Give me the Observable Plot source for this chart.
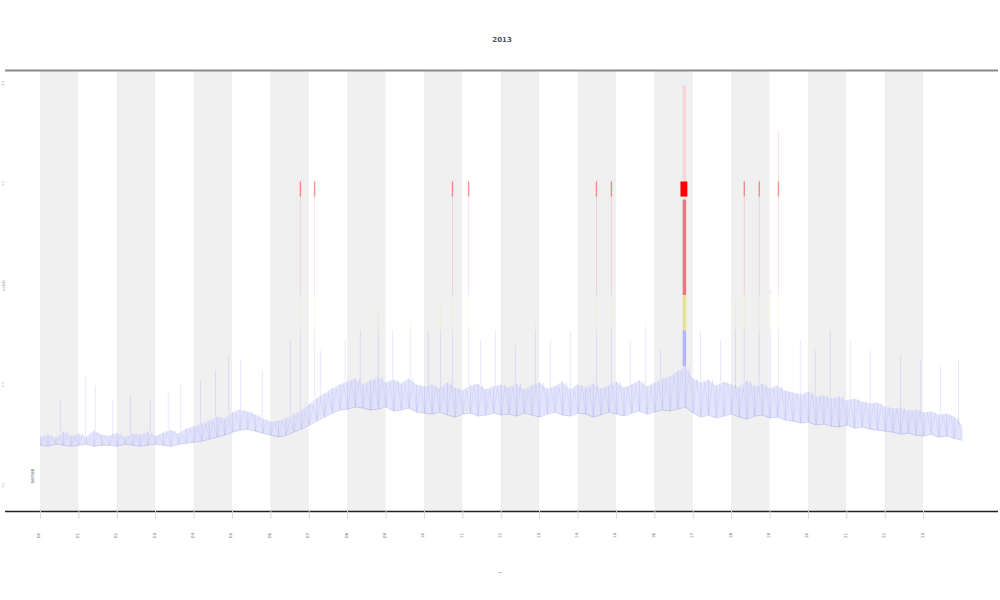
<!DOCTYPE html>
<html><head><meta charset="utf-8">
<script src="https://cdn.jsdelivr.net/npm/d3@7"></script>
<script src="https://cdn.jsdelivr.net/npm/@observablehq/plot@0.6"></script>
<style>body{margin:0;background:#fff;} #chart svg{display:block;}</style>
</head><body><div id="chart"></div>
<script>
// ---- text ----
const chartTitle = "2013";
const xTitle = "t";
const yTitle = "value";
const legendText = "series";

// ---- ticks ----
const xTicks = [0,1,2,3,4,5,6,7,8,9,10,11,12,13,14,15,16,17,18,19,20,21,22,23];
const xTickLabels = ["00","01","02","03","04","05","06","07","08","09","10","11","12","13","14","15","16","17","18","19","20","21","22","23"];
const yTicks = [0,1,2,3,4];
const yTickLabels = ["0.0","1.0","2.0","3.0","4.0"];
const shadeStarts = [0,2,4,6,8,10,12,14,16,18,20,22];

// ---- dense band (sampled every 0.2) ----
const bandStep = 0.2;
const bandLow = [0.42,0.41,0.43,0.42,0.41,0.42,0.43,0.41,0.42,0.42,0.41,0.43,0.42,0.41,0.42,0.43,0.42,0.41,0.43,0.44,0.45,
  0.46,0.48,0.50,0.52,0.55,0.57,0.58,
  0.56,0.54,0.52,0.50,
  0.52,0.55,0.58,0.62,0.66,0.70,0.74,0.77,
  0.78,0.80,0.79,0.77,0.78,0.80,0.76,0.77,0.79,0.75,0.74,
  0.73,0.75,0.72,0.70,0.73,0.74,0.71,0.72,0.74,0.72,
  0.73,0.71,0.74,0.72,0.70,0.73,0.75,0.72,0.71,0.74,0.73,0.70,0.72,0.75,0.73,0.71,0.74,0.76,0.73,0.75,0.77,0.76,
  0.78,0.80,0.74,
  0.70,0.72,0.69,0.71,0.73,0.70,0.68,0.71,0.72,0.69,0.70,0.67,
  0.66,0.64,0.65,0.62,0.63,0.61,0.60,0.62,0.59,0.60,0.58,0.57,
  0.56,0.55,0.53,0.54,0.52,0.51,0.53,0.50,0.51,0.49,0.47];
const bandHigh = [0.50,0.52,0.49,0.55,0.51,0.53,0.50,0.56,0.52,0.51,0.54,0.50,0.53,0.52,0.55,0.51,0.54,0.57,0.53,0.58,0.60,
  0.63,0.66,0.70,0.68,0.74,0.77,0.75,
  0.72,0.68,0.65,0.66,
  0.68,0.72,0.76,0.82,0.88,0.93,0.98,1.02,
  1.05,1.08,1.02,1.06,1.10,1.04,1.07,1.03,1.08,1.02,1.00,
  1.02,0.98,1.04,0.99,0.96,1.01,1.03,0.97,1.00,1.02,
  0.99,1.03,0.97,1.01,1.04,0.98,1.00,1.05,0.97,1.02,0.99,1.03,0.98,1.01,1.05,0.99,1.02,1.06,1.00,1.04,1.08,1.10,
  1.15,1.20,1.08,
  1.04,1.07,1.01,1.05,1.02,0.99,1.06,1.00,1.03,0.98,1.01,0.96,
  0.94,0.92,0.95,0.90,0.91,0.88,0.90,0.86,0.88,0.85,0.83,0.84,
  0.80,0.78,0.79,0.76,0.77,0.74,0.75,0.72,0.73,0.70,0.62];

// ---- isolated spikes ----
const spikeT   = [0.52,1.17,1.43,1.88,2.34,2.86,3.33,3.65,4.17,4.56,4.90,5.21,5.78,6.51,6.77,7.14,7.29,7.94,8.33,8.80,9.17,9.64,10.10,10.42,10.73,11.15,11.46,11.85,12.37,12.89,13.28,13.80,14.48,14.87,15.36,15.76,16.15,16.77,17.19,17.71,18.10,18.33,18.72,19.01,19.22,19.79,20.18,20.57,21.09,21.61,22.40,22.92,23.44,23.91];
const spikeTop = [0.87,1.11,1.01,0.87,0.92,0.87,0.95,1.01,1.06,1.16,1.31,1.26,1.16,1.46,3.05,3.05,1.36,1.46,1.56,1.76,1.56,1.66,1.56,1.86,3.05,3.05,1.46,1.56,1.41,1.66,1.46,1.56,3.05,3.05,1.46,1.66,1.36,4.00,1.56,1.46,1.86,3.05,3.05,1.96,3.55,1.46,1.36,1.56,1.46,1.36,1.31,1.26,1.21,1.26];

// ---- colour breaks and flags ----
const yellowFrom = 1.56;
const redFrom = 1.91;
const flagLow = 2.89;
const flagHigh = 3.04;
const flagT = [6.77,7.14,10.73,11.15,14.48,14.87,18.33,18.72,19.22];
const mainT = 16.77;
const mainTop = 4.00;
const mainRedTop = 2.86;

const blue = "#6e70ea", yellow = "#e4dc5a", red = "#e23a3a";

// ---- derived tables ----
const band = bandLow.map((lo, i) => ({t: i * bandStep, low: lo, high: bandHigh[i]}));
const zig = band.flatMap((d, i) => i < band.length - 1
  ? [{t: d.t, v: d.low}, {t: d.t + bandStep / 2, v: d.high}]
  : [{t: d.t, v: d.low}]);
const baseAt = t => bandHigh[Math.min(Math.round(t / bandStep), bandHigh.length - 1)];
const spikeSegs = spikeT.flatMap((t, i) => {
  const top = spikeTop[i], base = baseAt(t), out = [];
  out.push({t, y1: base, y2: Math.min(top, yellowFrom), c: blue});
  if (top > yellowFrom) out.push({t, y1: yellowFrom, y2: Math.min(top, redFrom), c: yellow});
  if (top > redFrom) out.push({t, y1: redFrom, y2: top, c: red});
  return out;
});
const mainSegs = [
  {t: mainT, y1: baseAt(mainT), y2: yellowFrom, c: "#b4b7f2"},
  {t: mainT, y1: yellowFrom, y2: redFrom, c: "#e6e296"},
  {t: mainT, y1: redFrom, y2: mainRedTop, c: "#e67a82"},
  {t: mainT, y1: flagHigh, y2: mainTop, c: "#f6d6d6"}
];

const chart = Plot.plot({
  width: 1000, height: 600,
  marginTop: 70, marginBottom: 89, marginLeft: 5, marginRight: 2,
  x: {domain: [-0.91, 24.95], axis: null},
  y: {domain: [-0.24, 4.15], axis: null},
  color: {type: "identity"},
  style: {fontFamily: "DejaVu Sans", background: "#fff"},
  marks: [
    Plot.rect(shadeStarts, {x1: d => d, x2: d => d + 1, fill: "#f0f0f0"}),
    Plot.areaY(band, {x: "t", y1: "low", y2: "high", fill: "#dadcf9", fillOpacity: 0.75, curve: "linear"}),
    Plot.ruleX(band, {x: "t", y1: "low", y2: "high", stroke: blue, strokeOpacity: 0.25, strokeWidth: 0.6}),
    Plot.line(zig, {x: "t", y: "v", stroke: blue, strokeOpacity: 0.2, strokeWidth: 0.5}),
    Plot.line(band, {x: "t", y: "low", stroke: blue, strokeOpacity: 0.45, strokeWidth: 0.7}),
    Plot.ruleX(spikeSegs, {x: "t", y1: "y1", y2: "y2", stroke: "c", strokeOpacity: 0.22, strokeWidth: 0.7}),
    Plot.ruleX(mainSegs, {x: "t", y1: "y1", y2: "y2", stroke: "c", strokeWidth: 3.5}),
    Plot.ruleX(flagT, {x: d => d, y1: flagLow, y2: flagHigh, stroke: "#e83030", strokeWidth: 1.4, strokeOpacity: 0.45}),
    Plot.rect([mainT], {x1: d => d - 0.09, x2: d => d + 0.09, y1: flagLow, y2: flagHigh, fill: "#ff0000"}),
    Plot.ruleY([4.15], {stroke: "#8a8a8a", strokeWidth: 2}),
    Plot.ruleY([-0.24], {stroke: "#222", strokeWidth: 1.5}),
    Plot.axisX({ticks: xTicks, tickSize: 8, stroke: "#d8d8d8", tickFormat: () => "", anchor: "bottom", label: null}),
    Plot.text(xTickLabels, {x: (d, i) => xTicks[i], text: d => d, frameAnchor: "bottom", dy: 24, rotate: -90, fontSize: 4, fill: "#666"}),
    Plot.text(yTickLabels, {y: (d, i) => yTicks[i], text: d => d, frameAnchor: "left", dx: -2, rotate: -90, fontSize: 3, fill: "#999"}),
    Plot.text([yTitle], {frameAnchor: "left", dx: -2, rotate: -90, fontSize: 4, fill: "#aaa"}),
    Plot.text([xTitle], {frameAnchor: "bottom", dy: 61, rotate: -90, fontSize: 5, fill: "#999"}),
    Plot.text([legendText], {frameAnchor: "bottom-left", dx: 28, dy: -28, rotate: -90, fontSize: 5, fill: "#555"}),
    Plot.text([chartTitle], {frameAnchor: "top", dy: -33, fontSize: 7, fontWeight: "bold", fill: "#555"})
  ]
});
document.getElementById("chart").appendChild(chart);
</script>
</body></html>
